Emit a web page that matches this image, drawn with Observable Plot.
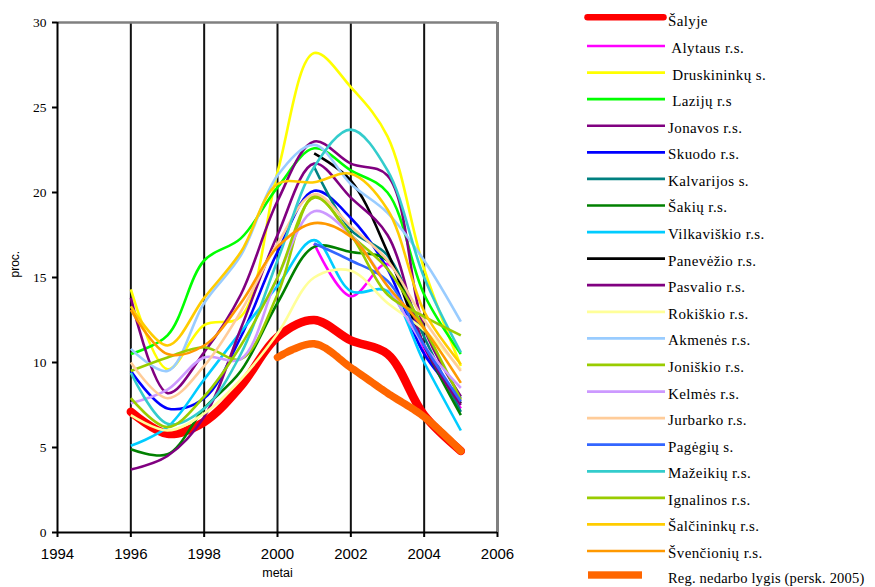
<!DOCTYPE html>
<html><head><meta charset="utf-8">
<script src="https://cdn.jsdelivr.net/npm/d3@7"></script>
<script src="https://cdn.jsdelivr.net/npm/@observablehq/plot@0.6"></script>
<style>
body{margin:0;background:#fff;}
#wrap{position:relative;width:875px;height:587px;overflow:hidden;background:#fff;}
#wrap > svg{position:absolute;left:0;top:0;}
.serif{font-family:'Liberation Serif','Times New Roman',serif;}
</style></head><body><div id="wrap"></div>
<script>
// ---- data ----
const years = [1996,1997,1998,1999,2000,2001,2002,2003,2004,2005];
const xTicks = [1994,1996,1998,2000,2002,2004,2006];
const gridYears = [1996,1998,2000,2002,2004];
const yTicks = [0,5,10,15,20,25,30];

const salyje      = [7.1, 5.8, 6.5, 8.6, 11.5, 12.5, 11.3, 10.5, 6.9, 4.8];
const alytaus     = [null,null,null,null,null, 17.0, 13.9, 15.8, 10.8, 7.3];
const druskininku = [14.3, 9.6, 12.2, 12.7, 21.2, 28.2, 26.2, 23.3, 15.5, 9.8];
const lazdiju     = [10.5, 11.6, 16.0, 17.3, 20.3, 22.6, 21.3, 20.0, 14.0, 10.5];
const jonavos     = [13.8, 8.2, 10.6, 14.0, 19.5, 23.0, 21.7, 21.0, 12.0, 8.0];
const skuodo      = [9.5, 7.3, 7.9, 11.5, 16.5, 20.1, 18.5, 15.5, 10.5, 7.9];
const kalvarijos  = [null,null,null,null,null, 21.5, 17.8, 16.3, 11.5, 7.1];
const sakiu       = [4.9, 4.6, 7.3, 9.5, 13.5, 16.8, 16.5, 16.0, 11.0, 6.9];
const vilkaviskio = [5.1, 6.2, 9.0, 11.8, 14.5, 17.2, 14.2, 14.2, 10.0, 6.0];
const panevezio   = [null,null,null,null,null, 22.3, 20.7, 16.5, 11.0, 7.6];
const pasvalio    = [3.7, 4.5, 6.8, 12.0, 17.5, 21.7, 19.7, 17.5, 11.0, 7.5];
const rokiskio    = [6.9, 6.0, 7.0, 9.0, 11.7, 15.0, 15.4, 13.5, 11.9, 9.6];
const akmenes     = [10.8, 9.5, 13.5, 16.3, 21.0, 22.8, 20.5, 18.8, 16.0, 12.4];
const joniskio    = [9.5, 10.3, 10.9, 10.2, 14.0, 19.8, 17.5, 15.5, 12.0, 7.8];
const kelmes      = [7.6, 8.4, 10.3, 10.2, 15.0, 18.9, 17.5, 14.5, 11.0, 8.5];
const jurbarko    = [10.0, 7.9, 9.8, 13.0, 17.0, 19.9, 18.0, 16.0, 12.5, 9.5];
const pagegiu     = [null,null,null,null,null, 17.0, 16.0, 14.8, 11.0, 7.7];
const mazeikiu    = [9.4, 6.4, 7.3, 10.5, 16.0, 21.5, 23.7, 21.3, 15.0, 10.6];
const ignalinos   = [7.9, 6.2, 8.0, 11.0, 15.0, 19.7, 17.5, 14.0, 12.7, 11.6];
const salcininku  = [13.3, 11.0, 13.8, 16.5, 20.5, 20.6, 21.1, 19.0, 13.0, 9.9];
const svencioniu  = [13.1, 10.5, 11.0, 13.5, 16.8, 18.2, 17.4, 14.5, 12.0, 8.8];
const regLygis    = [null,null,null,null, 10.3, 11.1, 9.7, 8.2, 6.8, 4.8];

const seriesNames = ["Šalyje"," Alytaus r.s."," Druskininkų s."," Lazijų r.s","Jonavos r.s.","Skuodo r.s.","Kalvarijos s.","Šakių r.s.","Vilkaviškio r.s.","Panevėžio r.s.","Pasvalio r.s.","Rokiškio r.s.","Akmenės r.s.","Joniškio r.s.","Kelmės r.s.","Jurbarko r.s.","Pagėgių s.","Mažeikių r.s.","Ignalinos r.s.","Šalčininkų r.s.","Švenčionių r.s.","Reg. nedarbo lygis (persk. 2005)"];
const seriesColors = ["#ff0000","#ff00ff","#ffff00","#00ff00","#800080","#0000ff","#008080","#008000","#00ccff","#000000","#800080","#ffff99","#99ccff","#99cc00","#cc99ff","#ffcc99","#3366ff","#33cccc","#99cc00","#ffcc00","#ff9900","#ff6600"];
const seriesValues = [salyje,alytaus,druskininku,lazdiju,jonavos,skuodo,kalvarijos,sakiu,vilkaviskio,panevezio,pasvalio,rokiskio,akmenes,joniskio,kelmes,jurbarko,pagegiu,mazeikiu,ignalinos,salcininku,svencioniu,regLygis];

// tidy table
const table = [];
seriesValues.forEach((vals, i) => years.forEach((yr, j) => {
  if (vals[j] != null) table.push({idx: i, name: seriesNames[i], year: yr, value: vals[j]});
}));

const lineMarks = seriesNames.map((name, i) => {
  const last = i === seriesNames.length - 1;
  return Plot.line(table.filter(d => d.idx === i), {
    x: "year", y: "value", stroke: seriesColors[i],
    strokeWidth: i === 0 ? 8.5 : last ? 7.5 : 2.6,
    strokeDasharray: last ? "5,0.8" : null,
    strokeLinecap: i === 0 || last ? "round" : "butt",
    curve: "catmull-rom"
  });
});

const SANS = "'Liberation Sans', Arial, sans-serif";
const SERIF = "'Liberation Serif', 'Times New Roman', serif";

const chart = Plot.plot({
  width: 875, height: 587,
  marginLeft: 57, marginRight: 378, marginTop: 22, marginBottom: 55,
  x: {domain: [1994, 2006]},
  y: {domain: [0, 30]},
  style: {background: "transparent", color: "#000"},
  marks: [
    Plot.ruleX(gridYears, {stroke: "#111", strokeWidth: 2}),
    Plot.ruleY([30], {stroke: "#808080", strokeWidth: 2.5}),
    Plot.ruleX([2006], {stroke: "#808080", strokeWidth: 3}),
    ...lineMarks,
    Plot.ruleX([1994], {stroke: "#000", strokeWidth: 2}),
    Plot.ruleY([0], {stroke: "#000", strokeWidth: 2}),
    Plot.axisX({ticks: xTicks, tickFormat: "d", tickSize: 5, tickPadding: 11, strokeWidth: 2, fontFamily: SANS, fontSize: 15, label: null}),
    Plot.axisY({ticks: yTicks, tickSize: 5, tickPadding: 6, strokeWidth: 2, fontFamily: SERIF, fontSize: 13.5, label: null}),
    Plot.text(["metai"], {frameAnchor: "bottom", dy: 44, fontFamily: SANS, fontSize: 12.5}),
    Plot.text(["proc."], {frameAnchor: "left", dx: -42, rotate: -90, fontFamily: SANS, fontSize: 12})
  ]
});
document.getElementById("wrap").appendChild(chart);

// ---- legend (right side) ----
const legend = d3.select("#wrap").append("svg")
  .attr("width", 875).attr("height", 587)
  .style("pointer-events", "none");
const rowY = i => i === 0 ? 17.3 : i === seriesNames.length - 1 ? 575 : 46 + (i - 1) * 26.58;
seriesNames.forEach((name, i) => {
  const y = rowY(i);
  const last = i === seriesNames.length - 1;
  if (i === 0) {
    legend.append("line").attr("x1", 587.5).attr("x2", 663.5).attr("y1", y).attr("y2", y)
      .attr("stroke", seriesColors[i]).attr("stroke-width", 6.5).attr("stroke-linecap", "round");
  } else if (last) {
    legend.append("rect").attr("x", 588).attr("y", y - 3.7).attr("width", 54).attr("height", 7.4)
      .attr("fill", seriesColors[i]);
  } else {
    legend.append("line").attr("x1", 587).attr("x2", 665).attr("y1", y).attr("y2", y)
      .attr("stroke", seriesColors[i]).attr("stroke-width", 2.7);
  }
  legend.append("text").attr("x", 668).attr("y", y + (i === 0 ? 8.5 : last ? 7.5 : 7))
    .attr("class", "serif")
    .attr("xml:space", "preserve").style("white-space", "pre")
    .style("font-family", SERIF).attr("font-size", last ? 14.5 : 15)
    .attr("letter-spacing", last ? 0.2 : 0.4).attr("fill", "#000")
    .text(name);
});
</script></body></html>
